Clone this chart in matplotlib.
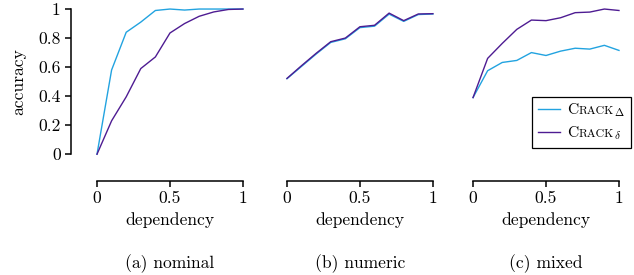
import matplotlib
matplotlib.use("Agg")
import matplotlib.pyplot as plt
from matplotlib.lines import Line2D
from matplotlib.offsetbox import AnchoredOffsetbox, DrawingArea, HPacker, VPacker, TextArea

plt.rcParams['font.family'] = ['cmr10', 'DejaVu Serif']
plt.rcParams['mathtext.fontset'] = 'cm'
plt.rcParams['axes.formatter.use_mathtext'] = True
plt.rcParams['font.size'] = 12.6

dependency = [0, 0.1, 0.2, 0.3, 0.4, 0.5, 0.6, 0.7, 0.8, 0.9, 1.0]

# (a) nominal
nominal_big = [0, 0.58, 0.84, 0.91, 0.99, 1.0, 0.993, 1.0, 1.0, 1.0, 1.0]
nominal_small = [0, 0.23, 0.395, 0.59, 0.67, 0.835, 0.90, 0.95, 0.98, 0.997, 1.0]
# (b) numeric
numeric_big = [0.52, 0.605, 0.69, 0.77, 0.795, 0.872, 0.882, 0.965, 0.915, 0.962, 0.966]
numeric_small = [0.522, 0.61, 0.695, 0.775, 0.80, 0.878, 0.888, 0.972, 0.92, 0.966, 0.968]
# (c) mixed
mixed_big = [0.39, 0.575, 0.632, 0.646, 0.70, 0.68, 0.71, 0.73, 0.724, 0.75, 0.715]
mixed_small = [0.39, 0.66, 0.763, 0.86, 0.924, 0.92, 0.94, 0.975, 0.979, 1.0, 0.99]

panels = [("(a) nominal", nominal_big, nominal_small),
          ("(b) numeric", numeric_big, numeric_small),
          ("(c) mixed", mixed_big, mixed_small)]

c_big = '#22a3e0'
c_small = '#4e1c92'
subs = [r'$_\Delta$', r'$_\delta$']

fig = plt.figure(figsize=(6.34, 2.75), dpi=100)
lefts = [0.1484, 0.448, 0.7415]
axes = []
for i, (title, big, small) in enumerate(panels):
    ax = fig.add_axes([lefts[i], 0.4287, 0.2394, 0.549])
    ax.plot(dependency, big, color=c_big, lw=1.0)
    ax.plot(dependency, small, color=c_small, lw=1.0)
    ax.set_xlim(-0.02, 1.02)
    ax.set_ylim(-0.02, 1.02)
    ax.set_xticks([0, 0.5, 1])
    ax.set_xticklabels(['0', '0.5', '1'])
    for s in ['top', 'right']:
        ax.spines[s].set_visible(False)
    ax.spines['bottom'].set_position(('outward', 17))
    ax.spines['bottom'].set_bounds(0, 1)
    ax.spines['bottom'].set_linewidth(1.1)
    ax.tick_params(axis='x', length=4, width=1.1, pad=3)
    ax.set_xlabel('dependency', labelpad=4.5)
    if i == 0:
        ax.spines['left'].set_position(('outward', 16.5))
        ax.spines['left'].set_bounds(0, 1)
        ax.spines['left'].set_linewidth(1.1)
        ax.set_yticks([0, 0.2, 0.4, 0.6, 0.8, 1])
        ax.set_yticklabels(['0', '0.2', '0.4', '0.6', '0.8', '1'])
        ax.tick_params(axis='y', length=4, width=1.1, pad=3.5)
        ax.set_ylabel('accuracy', labelpad=9)
    else:
        ax.spines['left'].set_visible(False)
        ax.set_yticks([])
    ax.patch.set_visible(False)
    fig.text(lefts[i] + 0.2394 / 2, 0.043, title, ha='center', va='center')
    axes.append(ax)

# legend with small-caps name: C + smaller RACK + subscript
rows = []
for color, sub in [(c_big, subs[0]), (c_small, subs[1])]:
    da = DrawingArea(16, 8, 0, 0)
    da.add_artist(Line2D([0, 16], [3.5, 3.5], color=color, lw=1.0))
    name = HPacker(children=[TextArea('C', textprops=dict(fontsize=11.3)),
                             TextArea('RACK', textprops=dict(fontsize=8.5)),
                             TextArea(sub, textprops=dict(fontsize=11.3))],
                   align='baseline', pad=0, sep=0)
    rows.append(HPacker(children=[da, name], align='baseline', pad=0, sep=5))
box = AnchoredOffsetbox(loc='upper right', child=VPacker(children=rows, align='left', pad=0, sep=4.5),
                        pad=0.35, borderpad=0, frameon=True,
                        bbox_to_anchor=(631 / 634, 1 - 97 / 275), bbox_transform=fig.transFigure)
box.patch.set_edgecolor('black')
box.patch.set_linewidth(0.9)
fig.add_artist(box)

fig.savefig('out.png', dpi=100)
